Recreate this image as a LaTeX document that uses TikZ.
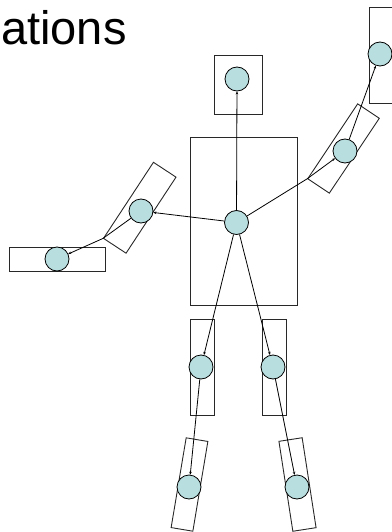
\documentclass[tikz,border=0pt]{standalone}
\usepackage{fontspec}
\setmainfont{Liberation Sans}
\usetikzlibrary{arrows.meta}
\definecolor{jointc}{RGB}{184,222,224}
\definecolor{boxc}{RGB}{40,40,40}
\tikzset{
  part/.style={draw=boxc, line width=0.9pt, rectangle, inner sep=0pt},
  joint/.style={draw=black, line width=0.8pt, circle, fill=jointc, minimum size=24pt, inner sep=0pt},
  bone/.style={draw=black, line width=0.8pt, -{Stealth[length=3pt,width=2.6pt]}}
}
\begin{document}
\begin{tikzpicture}[x=1pt,y=-1pt]
\useasboundingbox (0,0) rectangle (391,532);
\node[anchor=base west, inner sep=0pt, font=\fontsize{47}{47}\selectfont] (title) at (1,45) {ations};
% body parts
\node[part, minimum width=48pt, minimum height=59pt] (head) at (238,84.5) {};
\node[part, minimum width=107pt, minimum height=168pt] (torso) at (243.5,221) {};
\node[part, minimum width=24pt, minimum height=96pt] (rhand) at (381,55) {};
\node[part, minimum width=96pt, minimum height=24pt] (lhand) at (57,259) {};
\node[part, minimum width=24pt, minimum height=96pt] (lthigh) at (202,367) {};
\node[part, minimum width=24pt, minimum height=96pt] (rthigh) at (274,367) {};
\node[part, minimum width=91pt, minimum height=27pt, rotate=56.7] (lfa) at (139.75,207.75) {};
\node[part, minimum width=90pt, minimum height=26pt, rotate=56.3] (rfa) at (343.5,148.5) {};
\node[part, minimum width=91pt, minimum height=22pt, rotate=80.5] (lshin) at (189.5,484.5) {};
\node[part, minimum width=91pt, minimum height=23.5pt, rotate=98.8] (rshin) at (297.5,484.5) {};
% joints
\node[joint] (tc) at (236.5,222.5) {};
\node[joint] (hc) at (237,79) {};
\node[joint] (lac) at (141,211) {};
\node[joint] (lhc) at (57,259) {};
\node[joint] (rac) at (345,151) {};
\node[joint] (rhc) at (380,54) {};
\node[joint] (ltc) at (201,367) {};
\node[joint] (rtc) at (273,367) {};
\node[joint] (lsc) at (189,487) {};
\node[joint] (rsc) at (297,487) {};
% connectors
\draw[bone] (tc) -- (hc);
\draw[bone] (tc) -- (lac);
\draw[bone] (lac) -- (lfa.north west) -- (lhc);
\draw[bone] (tc) -- (rfa.north west) -- (rac);
\draw[bone] (rac) -- (rhc);
\draw[bone] (tc) -- (ltc);
\draw[bone] (tc) -- (rtc);
\draw[bone] (ltc) -- (lsc);
\draw[bone] (rtc) -- (rsc);
\end{tikzpicture}
\end{document}
